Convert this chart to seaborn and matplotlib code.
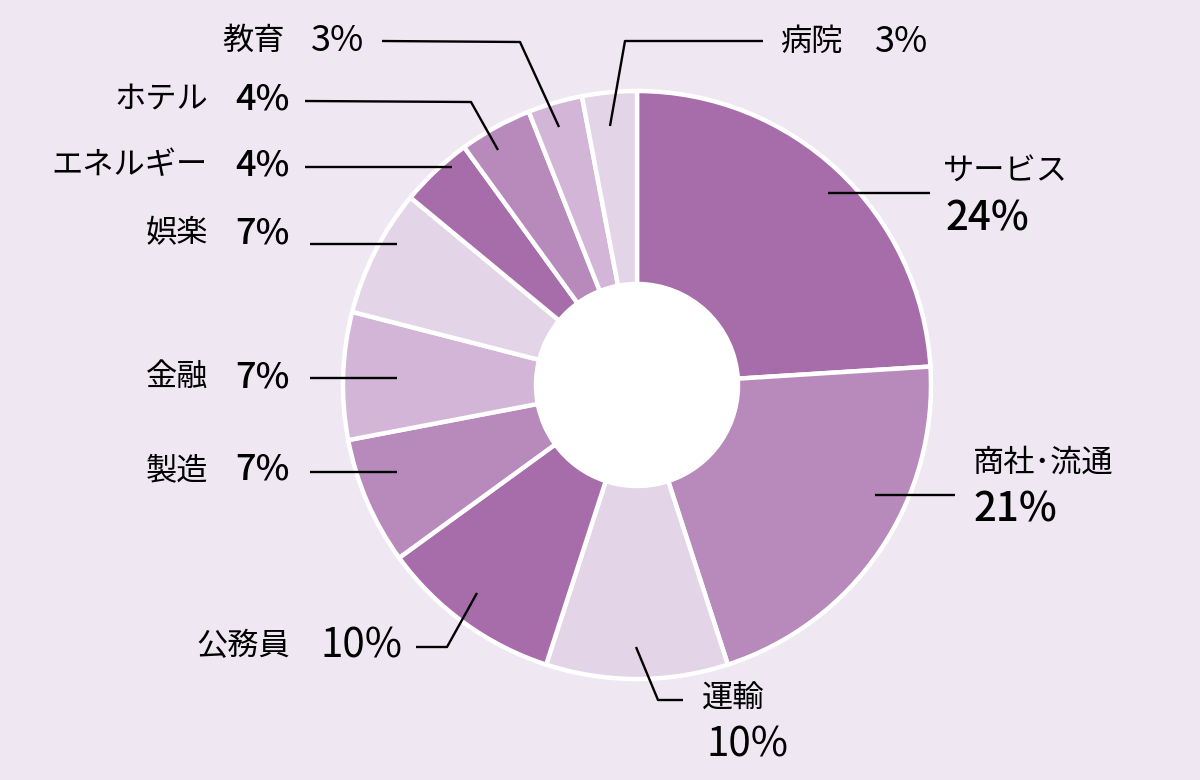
import matplotlib
matplotlib.use("Agg")
import matplotlib.pyplot as plt
import seaborn as sns

# data (clockwise from 12 o'clock)
industries = ["サービス", "商社･流通", "運輸", "公務員", "製造", "金融",
              "娯楽", "エネルギー", "ホテル", "教育", "病院"]
shares = [24, 21, 10, 10, 7, 7, 7, 4, 4, 3, 3]
pct_labels = ["24%", "21%", "10%", "10%", "7%", "7%", "7%", "4%", "4%", "3%", "3%"]

BG = "#EFE8F3"
DARK, MID, LIGHTMID, LIGHT = "#A66DAA", "#B88ABC", "#D3B5D7", "#E3D4E8"
pal = sns.color_palette([DARK, MID, LIGHT, DARK, MID, LIGHTMID, LIGHT,
                         DARK, MID, LIGHTMID, LIGHT])

sns.set_style("white", {"axes.facecolor": BG, "figure.facecolor": BG})
plt.rcParams['font.family'] = ['Noto Sans CJK JP', 'DejaVu Sans']
plt.rcParams['text.color'] = 'black'

# label layout in pixel coords: (side, name xy, pct xy, pct size, pct weight, leader pts)
layout = {
    "サービス": ("stack", (943, 172), (945, 219), 29, "medium",
                [(828, 193), (930, 193)]),
    "商社･流通": ("stack", (973, 463), (973, 510), 29, "medium",
                [(875, 495), (955, 495)]),
    "運輸": ("stack", (702, 698), (707, 745), 29, "normal",
            [(636, 647), (658, 700), (683, 700)]),
    "公務員": ("left", (290, 646), (320, 646), 29, "normal",
             [(416, 647), (447, 647), (477, 593)]),
    "製造": ("left", (208, 470), (235, 470), 26, "medium",
            [(310, 472), (397, 472)]),
    "金融": ("left", (208, 377), (235, 377), 26, "medium",
            [(310, 378), (397, 378)]),
    "娯楽": ("left", (208, 233), (235, 233), 26, "medium",
            [(310, 244), (397, 244)]),
    "エネルギー": ("left", (208, 165), (235, 165), 26, "medium",
                [(305, 167), (452, 167)]),
    "ホテル": ("left", (208, 100), (235, 100), 26, "medium",
             [(305, 101), (471, 102), (498, 150)]),
    "教育": ("left", (285, 41), (311, 41), 26, "normal",
            [(382, 41), (520, 42), (559, 127)]),
    "病院": ("right", (780, 42), (875, 42), 26, "normal",
            [(763, 41), (625, 41), (610, 126)]),
}

fig = plt.figure(figsize=(12, 7.8), dpi=100)
ax = fig.add_axes([0, 0, 1, 1])
ax.set_facecolor(BG)

cx, cy, r_out, r_in = 637, 385, 294, 101
ax.pie(shares, colors=pal, startangle=-90, counterclock=True,
       center=(cx, cy), radius=r_out,
       wedgeprops=dict(width=r_out - r_in, edgecolor="white", linewidth=3.2))
ax.add_patch(plt.Circle((cx, cy), r_in + 1, color="white", zorder=5))

ax.set_xlim(0, 1200)
ax.set_ylim(780, 0)
ax.set_aspect("equal")
ax.axis("off")

for name, pct in zip(industries, pct_labels):
    side, nxy, pxy, psize, pweight, pts = layout[name]
    xs, ys = zip(*pts)
    ax.plot(xs, ys, color="black", lw=1.7, solid_capstyle="butt", zorder=6)
    ha = "right" if side == "left" else "left"
    ax.text(*nxy, name, ha=ha, va="center", fontsize=22.5, color="black")
    ax.text(*pxy, pct, ha="left", va="center", fontsize=psize,
            fontweight=pweight, color="black")

fig.savefig("out.png", dpi=100, facecolor=BG)
